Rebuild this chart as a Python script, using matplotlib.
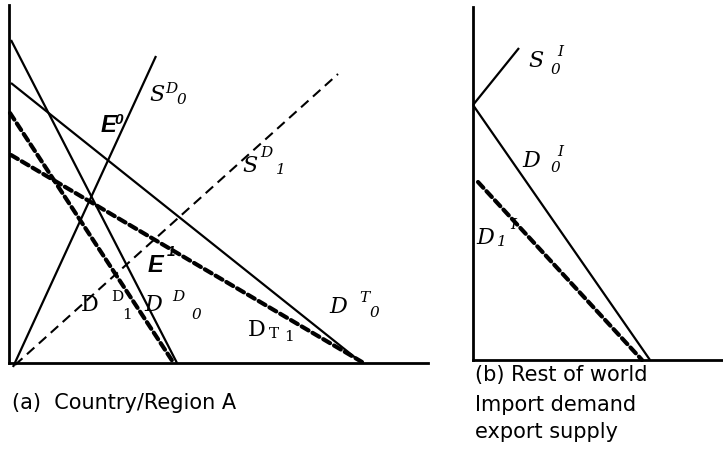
import matplotlib
matplotlib.use("Agg")
import matplotlib.pyplot as plt

# diagram drawn in a pixel-like frame: x to the right, y downwards
W, H = 723, 451

# panel (a): country/region A
axis_a_x = [9, 9, 428]
axis_a_y = [5, 363, 363]
sd0_x, sd0_y = [13, 156], [367, 56]      # domestic supply S^D_0
sd1_x, sd1_y = [15, 338], [365, 74]      # shifted supply S^D_1
dd0_x, dd0_y = [11, 177], [40, 363]      # domestic demand D^D_0
dt0_x, dt0_y = [11, 362], [83, 363]      # total demand D^T_0
dd1_x, dd1_y = [10, 173], [113, 362]     # D^D_1
dt1_x, dt1_y = [11, 362], [155, 362]     # D^T_1

# panel (b): rest of world
axis_b_x = [473, 473, 723]
axis_b_y = [7, 360, 360]
s0i_x, s0i_y = [473, 519], [105, 48]
d0i_x, d0i_y = [473, 650], [105, 360]
d1i_x, d1i_y = [478, 642], [182, 360]

fig = plt.figure(figsize=(W / 100, H / 100), dpi=100)
ax = fig.add_axes([0, 0, 1, 1])
ax.set_xlim(0, W)
ax.set_ylim(H, 0)
ax.axis("off")

solid = dict(color="black", lw=1.6, solid_capstyle="butt")
thin_dash = dict(color="black", lw=1.5, dashes=(4.8, 2.9))
thick_dash = dict(color="black", lw=3.0, dashes=(1.9, 1.1), dash_capstyle="round")

ax.plot(axis_a_x[:2], axis_a_y[:2], color="black", lw=2.0)
ax.plot(axis_a_x[1:], axis_a_y[1:], color="black", lw=2.0)
ax.plot(axis_b_x[:2], axis_b_y[:2], color="black", lw=2.0)
ax.plot(axis_b_x[1:], axis_b_y[1:], color="black", lw=2.0)

ax.plot(sd0_x, sd0_y, **solid)
ax.plot(sd1_x, sd1_y, **thin_dash)
ax.plot(dd0_x, dd0_y, **solid)
ax.plot(dt0_x, dt0_y, **solid)
ax.plot(dd1_x, dd1_y, **thick_dash)
ax.plot(dt1_x, dt1_y, **thick_dash)

ax.plot(s0i_x, s0i_y, **solid)
ax.plot(d0i_x, d0i_y, **solid)
ax.plot(d1i_x, d1i_y, **thick_dash)

serif = ["DejaVu Serif"]


def put(x, y, s, size=15, style="italic", family=serif, weight="normal"):
    ax.text(x, y, s, fontsize=size, fontstyle=style, family=family,
            fontweight=weight, ha="center", va="center")


big, small = 16, 11

# S^D_0
put(157, 95, "S", big)
put(171, 89, "D", small)
put(181, 100, "0", small)
# S^D_1
put(250, 166, "S", big)
put(266, 153, "D", small)
put(281, 170, "1", small)
# E^0, E^1
put(108, 125, "E", 17, family=["Liberation Sans"], weight="bold")
put(119, 120, "0", 11, family=["Liberation Sans"], weight="bold")
put(155, 265, "E", 17, family=["Liberation Sans"], weight="bold")
put(171, 252, "1", 11, family=["Liberation Sans"], weight="bold")
# D^D_1 (upright)
put(90, 305, "D", big, style="normal")
put(117, 297, "D", small, style="normal")
put(127, 315, "1", small, style="normal")
# D^D_0
put(153, 305, "D", big)
put(178, 297, "D", small)
put(196, 315, "0", small)
# D^T_0
put(338, 307, "D", big)
put(364, 298, "T", small)
put(374, 313, "0", small)
# D_T_1 (upright)
put(257, 330, "D", big, style="normal")
put(274, 334, "T", small, style="normal")
put(289, 337, "1", small, style="normal")

# panel (b) labels
put(536, 61, "S", big)
put(555, 70, "0", small)
put(560, 52, "I", small)
put(531, 161, "D", big)
put(555, 168, "0", small)
put(560, 152, "I", small)
put(485, 238, "D", big)
put(502, 242, "1", small)
put(513, 225, "I", small)

sans = ["DejaVu Sans"]
ax.text(12, 403, "(a)  Country/Region A", fontsize=15, family=sans,
        ha="left", va="center")
ax.text(475, 375, "(b) Rest of world", fontsize=15, family=sans,
        ha="left", va="center")
ax.text(475, 405, "Import demand", fontsize=15, family=sans,
        ha="left", va="center")
ax.text(475, 432, "export supply", fontsize=15, family=sans,
        ha="left", va="center")

fig.savefig("out.png", dpi=100)
